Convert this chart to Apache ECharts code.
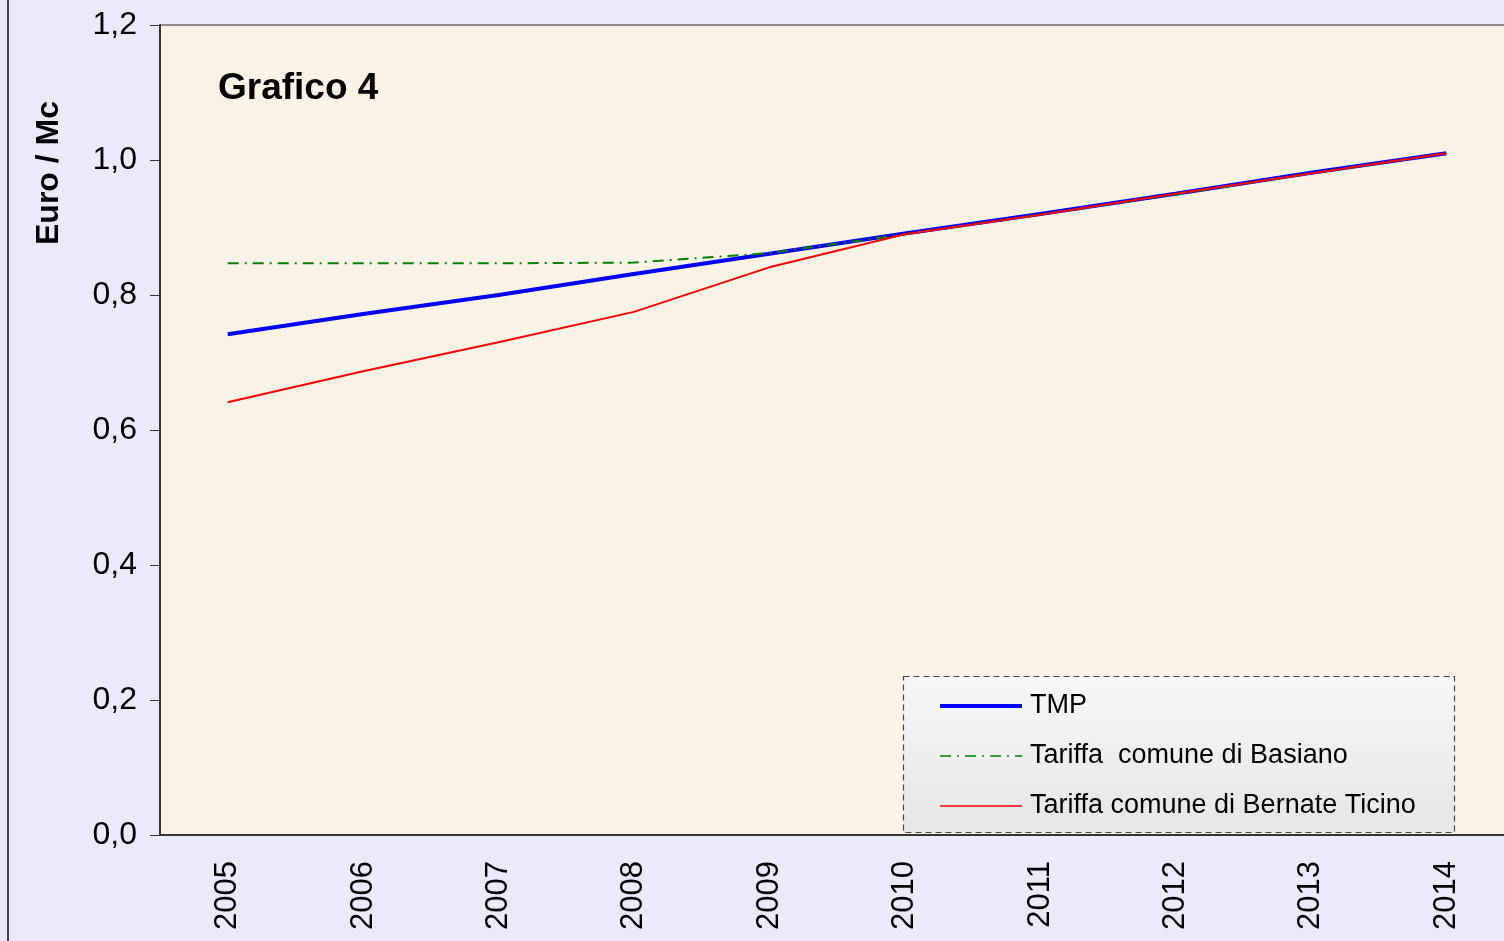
<!DOCTYPE html>
<html>
<head>
<meta charset="utf-8">
<script src="https://cdn.jsdelivr.net/npm/echarts@6/dist/echarts.min.js"></script>
<style>
html,body{margin:0;padding:0;background:#EAEAFB;overflow:hidden;width:1504px;height:941px;}
#chart{width:1514px;height:941px;}
</style>
</head>
<body>
<div id="chart"></div>
<script>
const years = ['2005','2006','2007','2008','2009','2010','2011','2012','2013','2014'];
const tmp = [0.742, 0.772, 0.800, 0.831, 0.861, 0.891, 0.920, 0.950, 0.981, 1.010];
const basiano = [0.847, 0.847, 0.847, 0.848, 0.862, 0.890, 0.919, 0.949, 0.980, 1.010];
const bernate = [0.641, 0.687, 0.730, 0.775, 0.841, 0.890, 0.919, 0.950, 0.980, 1.010];
const seriesNames = ['TMP', 'Tariffa  comune di Basiano', 'Tariffa comune di Bernate Ticino'];
const titleText = 'Grafico 4';
const yName = 'Euro / Mc';

const chart = echarts.init(document.getElementById('chart'));
const FONT = '"Liberation Sans", Arial, sans-serif';
chart.setOption({
  backgroundColor: '#EAEAFB',
  animation: false,
  grid: {
    left: 160, top: 25, bottom: 106, right: 0,
    show: true, backgroundColor: '#FAF2E5', borderColor: '#8c8c8c', borderWidth: 2
  },
  xAxis: {
    type: 'category', data: years, boundaryGap: true,
    axisLine: { lineStyle: { color: '#333', width: 2 } },
    axisTick: { length: 10, lineStyle: { color: '#333', width: 1 } },
    axisLabel: { rotate: 90, margin: 26, fontSize: 31, color: '#000', fontFamily: FONT }
  },
  yAxis: {
    type: 'value', min: 0, max: 1.2, interval: 0.2,
    splitLine: { show: false },
    axisLine: { show: true, lineStyle: { color: '#333', width: 2 } },
    axisTick: { show: true, length: 10, lineStyle: { color: '#333', width: 1 } },
    axisLabel: { margin: 23, fontSize: 32, color: '#000', fontFamily: FONT,
      formatter: v => v.toFixed(1).replace('.', ',') }
  },
  legend: {
    orient: 'vertical', left: 938, top: 691, padding: 0,
    itemWidth: 82, itemHeight: 14, itemGap: 20,
    itemStyle: { opacity: 0, borderWidth: 0 },
    textStyle: { fontSize: 27, color: '#000', fontFamily: FONT, lineHeight: 30, padding: [0, 0, 0, 3] },
    data: [
      { name: seriesNames[0], lineStyle: { width: 4 } },
      { name: seriesNames[1], lineStyle: { width: 1.5 } },
      { name: seriesNames[2], lineStyle: { width: 1.5 } }
    ]
  },
  graphic: [
    { type: 'line', shape: { x1: 8, y1: 0, x2: 8, y2: 941 }, style: { stroke: '#444', lineWidth: 2 }, z: 10 },
    { type: 'rect', shape: { x: 903.5, y: 676.5, width: 551, height: 156 },
      style: {
        fill: new echarts.graphic.LinearGradient(0, 0, 0, 1, [{ offset: 0, color: '#F7F7F7' }, { offset: 1, color: '#E6E6E6' }]),
        stroke: '#444', lineWidth: 1.2, lineDash: [6, 4]
      }, z: 3 },
    { type: 'text', left: 218, top: 70, style: { text: titleText, font: 'bold 37px ' + FONT, fill: '#000' }, z: 5 },
    { type: 'text', x: 49, y: 173, rotation: Math.PI / 2,
      style: { text: yName, font: 'bold 32px ' + FONT, fill: '#000', textAlign: 'center', textVerticalAlign: 'middle' }, z: 5 }
  ],
  series: [
    { name: seriesNames[0], type: 'line', data: tmp, symbol: 'none', z: 2,
      lineStyle: { color: '#0000FF', width: 4 }, itemStyle: { color: '#0000FF' } },
    { name: seriesNames[1], type: 'line', data: basiano, symbol: 'none', z: 3,
      lineStyle: { color: '#008000', width: 2, type: [11, 6, 2, 6] }, itemStyle: { color: '#008000' } },
    { name: seriesNames[2], type: 'line', data: bernate, symbol: 'none', z: 4,
      lineStyle: { color: '#FF0000', width: 2 }, itemStyle: { color: '#FF0000' } }
  ]
});
</script>
</body>
</html>
